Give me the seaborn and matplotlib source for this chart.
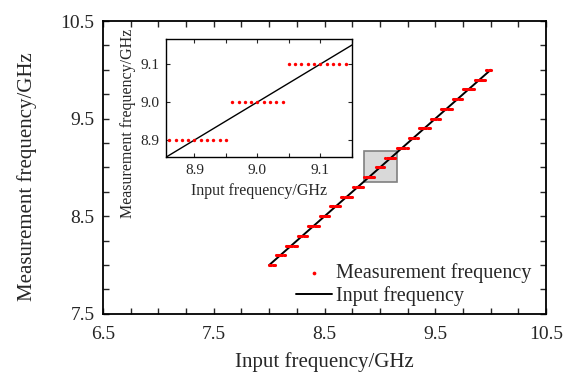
import numpy as np
import pandas as pd
import seaborn as sns
import matplotlib.pyplot as plt
from matplotlib.patches import Rectangle
from matplotlib.ticker import MultipleLocator

# niveles de frecuencia medida (GHz) y rango de entrada que cae en cada nivel
meas_levels = [8.0, 8.1, 8.2, 8.3, 8.4, 8.5, 8.6, 8.7, 8.8, 8.9, 9.0,
               9.1, 9.2, 9.3, 9.4, 9.5, 9.6, 9.7, 9.8, 9.9, 10.0]
seg_start = [8.00, 8.06, 8.15, 8.26, 8.35, 8.46, 8.55, 8.65, 8.76, 8.86, 8.96,
             9.05, 9.15, 9.26, 9.35, 9.46, 9.55, 9.66, 9.75, 9.86, 9.96]
seg_end = [8.05, 8.14, 8.25, 8.34, 8.45, 8.54, 8.64, 8.75, 8.85, 8.95, 9.04,
           9.14, 9.25, 9.34, 9.45, 9.54, 9.65, 9.74, 9.85, 9.95, 10.00]
sweep_step = 0.01  # paso del barrido de entrada

# barrido de entrada y la medida correspondiente
rows = []
for lvl, a, b in zip(meas_levels, seg_start, seg_end):
    n = int(round((b - a) / sweep_step)) + 1
    for k in range(n):
        rows.append((round(a + k * sweep_step, 2), lvl))
df = pd.DataFrame(rows, columns=["input", "meas"])

line_x = [8.0, 10.0]
inset_xlim = (8.855, 9.15)
inset_ylim = (8.855, 9.166)

sns.set_style("ticks")
plt.rcParams['font.family'] = ['Liberation Serif', 'DejaVu Serif']

fig = plt.figure(figsize=(5.63, 3.75), dpi=100)
ax = fig.add_axes([0.183, 0.163, 0.787, 0.781])

sns.scatterplot(x="input", y="meas", data=df, ax=ax, color="red", s=5,
                linewidth=0, marker="o", label="Measurement frequency", zorder=3)
sns.lineplot(x=line_x, y=line_x, ax=ax, color="black", linewidth=1.4,
             label="Input frequency", zorder=2)

# recuadro gris de la zona ampliada
ax.add_patch(Rectangle((inset_xlim[0], inset_ylim[0]),
                       inset_xlim[1] - inset_xlim[0], inset_ylim[1] - inset_ylim[0],
                       facecolor="#d9d9d9", edgecolor="#808080", linewidth=1.2, zorder=1))

ax.set_xlim(6.5, 10.5)
ax.set_ylim(7.5, 10.5)
ax.set_xticks([6.5, 7.5, 8.5, 9.5, 10.5])
ax.set_yticks([7.5, 8.5, 9.5, 10.5])
ax.xaxis.set_minor_locator(MultipleLocator(0.25))
ax.yaxis.set_minor_locator(MultipleLocator(0.25))
ax.tick_params(which="both", direction="in", top=True, right=True,
               length=4, width=1, labelsize=14)
ax.tick_params(axis="x", pad=9)
ax.tick_params(axis="y", pad=6)
for sp in ax.spines.values():
    sp.set_linewidth(1.3)
    sp.set_color("black")
ax.set_xlabel("Input frequency/GHz", fontsize=15, labelpad=6)
ax.set_ylabel("Measurement frequency/GHz", fontsize=15)
ax.yaxis.set_label_coords(-0.15, 0.47)

leg = ax.legend(loc="lower right", bbox_to_anchor=(0.985, 0.0), frameon=False,
                fontsize=14.5, handlelength=1.8, handletextpad=0.2,
                labelspacing=0.15, borderaxespad=0, markerscale=1.2)

# grafico interior
axin = fig.add_axes([0.295, 0.581, 0.330, 0.315])
sns.scatterplot(x="input", y="meas", data=df, ax=axin, color="red", s=6,
                linewidth=0, marker="o", legend=False, zorder=3)
sns.lineplot(x=line_x, y=line_x, ax=axin, color="black", linewidth=1.0, zorder=2)
axin.set_xlim(*inset_xlim)
axin.set_ylim(*inset_ylim)
axin.set_xticks([8.9, 9.0, 9.1])
axin.set_yticks([8.9, 9.0, 9.1])
axin.xaxis.set_minor_locator(MultipleLocator(0.05))
axin.tick_params(which="both", direction="in", top=True, right=True,
                 length=3, width=0.8, labelsize=11, pad=5)
for sp in axin.spines.values():
    sp.set_linewidth(1.0)
    sp.set_color("black")
axin.set_xlabel("Input frequency/GHz", fontsize=11.5)
axin.set_ylabel("Measurement frequency/GHz", fontsize=11.5)
axin.xaxis.set_label_coords(0.5, -0.22)
axin.yaxis.set_label_coords(-0.16, 0.29)

fig.savefig("out.png", dpi=100)
